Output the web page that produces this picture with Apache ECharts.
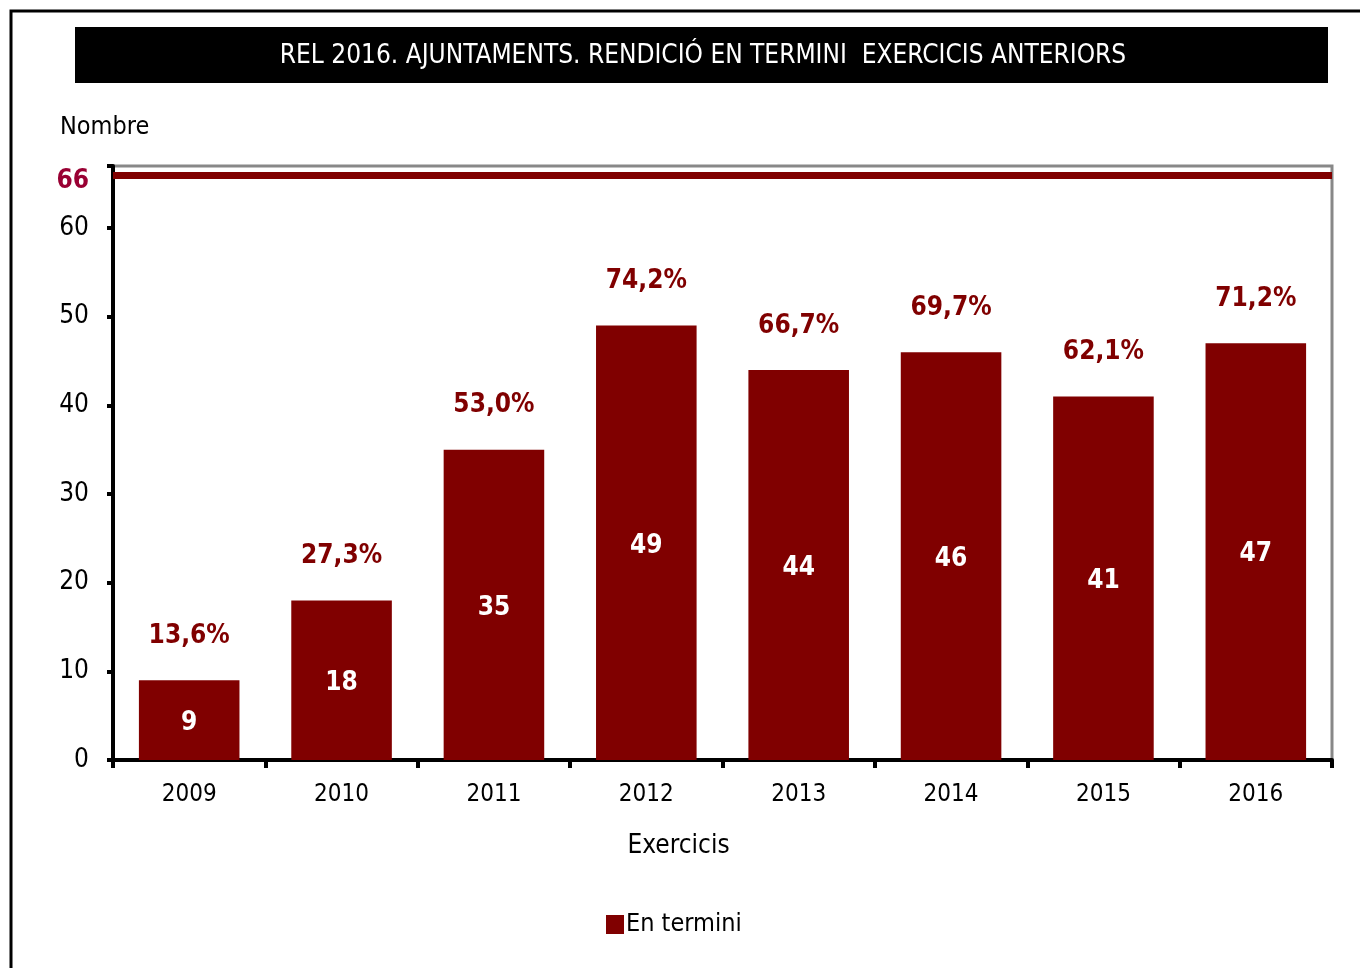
<!DOCTYPE html>
<html>
<head>
<meta charset="utf-8">
<title>REL 2016. Ajuntaments</title>
<script src="https://cdn.jsdelivr.net/npm/echarts@6/dist/echarts.min.js"></script>
<style>
  html, body { margin: 0; padding: 0; background: #fff; }
  #chart { width: 1360px; height: 968px; }
</style>
</head>
<body>
<div id="chart"></div>
<script>
// data
var years = ['2009', '2010', '2011', '2012', '2013', '2014', '2015', '2016']
var enTermini = [9, 18, 35, 49, 44, 46, 41, 47]
var pctLabels = ['13,6%', '27,3%', '53,0%', '74,2%', '66,7%', '69,7%', '62,1%', '71,2%']
var totalEntitats = 66
var yTicks = [0, 10, 20, 30, 40, 50, 60]

var FONT = '"Liberation Sans Narrow", "Arial Narrow", "DejaVu Sans Condensed", sans-serif'
var DARK_RED = '#800000'

var chart = echarts.init(document.getElementById('chart'))

chart.setOption({
  backgroundColor: '#fff',
  animation: false,
  textStyle: { fontFamily: FONT },
  graphic: [
    {
      type: 'rect',
      shape: { x: 11, y: 11, width: 1400, height: 1000 },
      style: { fill: 'none', stroke: '#000', lineWidth: 3 }
    },
    {
      type: 'rect',
      shape: { x: 75, y: 27, width: 1253, height: 56 },
      style: { fill: '#000' }
    },
    {
      type: 'text',
      x: 703,
      y: 56,
      style: {
        text: 'REL 2016. AJUNTAMENTS. RENDICIÓ EN TERMINI  EXERCICIS ANTERIORS',
        fill: '#fff',
        font: '26px ' + FONT,
        textAlign: 'center',
        textVerticalAlign: 'middle'
      }
    },
    {
      type: 'text',
      x: 60,
      y: 127,
      style: {
        text: 'Nombre',
        fill: '#000',
        font: '25px ' + FONT,
        textAlign: 'left',
        textVerticalAlign: 'middle'
      }
    }
  ],
  grid: {
    left: 113,
    right: 28,
    top: 166,
    bottom: 208,
    show: true,
    borderColor: '#888',
    borderWidth: 3,
    backgroundColor: 'transparent'
  },
  legend: {
    data: ['En termini'],
    left: 601,
    top: 907,
    itemWidth: 18,
    itemHeight: 19,
    itemGap: 10,
    icon: 'rect',
    textStyle: { fontFamily: FONT, fontSize: 25, color: '#000', padding: [0, 0, 0, -3] }
  },
  xAxis: {
    type: 'category',
    data: years,
    name: 'Exercicis',
    nameLocation: 'middle',
    nameGap: 73,
    nameTextStyle: { fontFamily: FONT, fontSize: 26, color: '#000', padding: [0, 88, 0, 0] },
    axisLine: { lineStyle: { color: '#000', width: 4 } },
    axisTick: { show: true, length: 8, lineStyle: { color: '#000', width: 4 } },
    axisLabel: { fontFamily: FONT, fontSize: 24, color: '#000', margin: 23 }
  },
  yAxis: {
    type: 'value',
    min: 0,
    max: 67,
    interval: 10,
    splitLine: { show: false },
    axisLine: { show: true, lineStyle: { color: '#000', width: 4 } },
    axisTick: { show: true, length: 6, lineStyle: { color: '#000', width: 4 } },
    axisLabel: {
      fontFamily: FONT,
      fontSize: 26,
      color: '#000',
      margin: 24,
      formatter: function (v) {
        return yTicks.indexOf(v) >= 0 ? String(v) : ''
      }
    }
  },
  series: [
    {
      name: 'En termini',
      type: 'bar',
      data: enTermini,
      barWidth: '66%',
      itemStyle: { color: DARK_RED },
      label: {
        show: true,
        position: 'inside',
        offset: [0, 3],
        color: '#fff',
        fontFamily: FONT,
        fontSize: 26,
        fontWeight: 'bold'
      },
      markLine: {
        silent: true,
        symbol: 'none',
        data: [{ yAxis: totalEntitats }],
        lineStyle: { color: DARK_RED, width: 7, type: 'solid' },
        label: {
          show: true,
          position: 'start',
          distance: 24,
          offset: [0, 6],
          formatter: String(totalEntitats),
          color: '#990033',
          fontFamily: FONT,
          fontSize: 26,
          fontWeight: 'bold'
        }
      }
    },
    {
      // percentage labels above each bar
      name: 'pct',
      type: 'bar',
      barGap: '-100%',
      barWidth: '66%',
      data: enTermini,
      itemStyle: { color: 'transparent' },
      silent: true,
      label: {
        show: true,
        position: 'top',
        distance: 31,
        color: DARK_RED,
        fontFamily: FONT,
        fontSize: 26,
        fontWeight: 'bold',
        formatter: function (p) {
          return pctLabels[p.dataIndex]
        }
      }
    }
  ]
})
</script>
</body>
</html>
